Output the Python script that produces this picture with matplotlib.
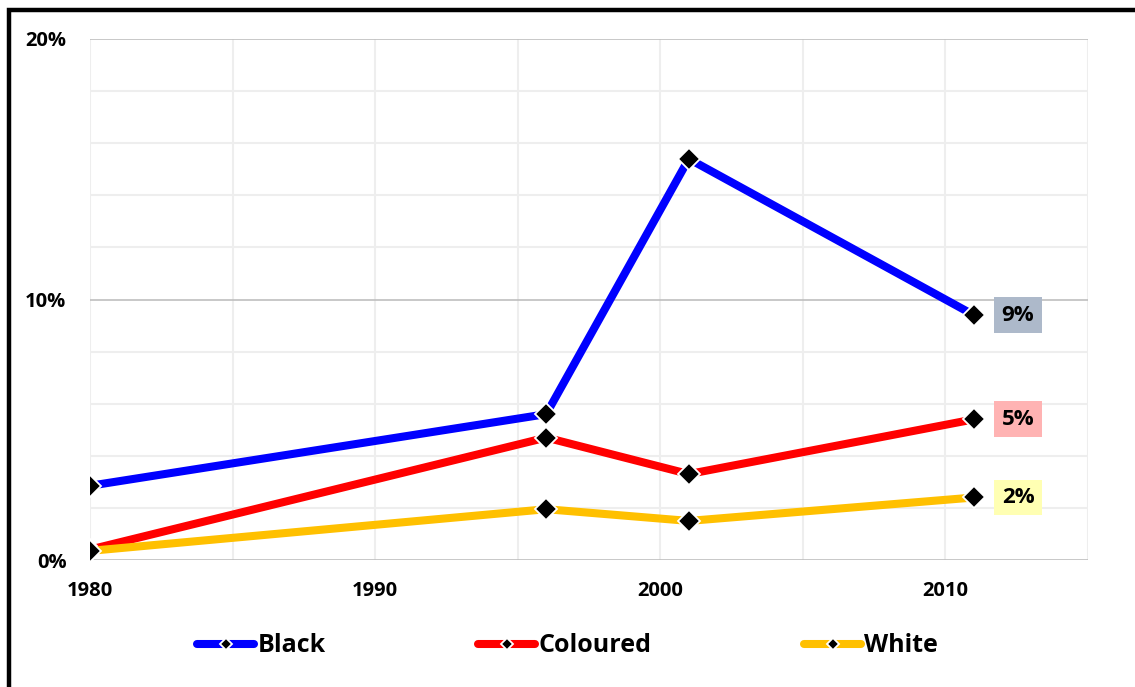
import matplotlib.pyplot as plt
from matplotlib.patches import Rectangle
from matplotlib.ticker import MultipleLocator, FuncFormatter

years = [1980, 1996, 2001, 2011]
black = [2.85, 5.6, 15.4, 9.4]
coloured = [0.4, 4.7, 3.3, 5.4]
white = [0.35, 1.95, 1.5, 2.4]

series_names = ['Black', 'Coloured', 'White']
series_values = [black, coloured, white]
series_colors = ['#0000ff', '#ff0000', '#ffc000']
end_labels = ['9%', '5%', '2%']
label_boxes = ['#adb9ca', '#ffb3b3', '#ffffb3']

plt.rcParams['font.family'] = ['Open Sans', 'DejaVu Sans']
plt.rcParams['font.weight'] = 'bold'

fig = plt.figure(figsize=(11.35, 6.87), dpi=100)
ax = fig.add_axes([90 / 1135, 1 - 560 / 687, 998 / 1135, 521 / 687])

handles = []
for name, vals, col in zip(series_names, series_values, series_colors):
    h, = ax.plot(years, vals, color=col, lw=5.8, marker='D', ms=11.5,
                 mfc='black', mec='white', mew=1.3, label=name,
                 solid_capstyle='butt', zorder=3)
    handles.append(h)

# end-of-line value labels
for vals, txt, bc in zip(series_values, end_labels, label_boxes):
    ax.annotate(txt, (years[-1], vals[-1]), xytext=(20, 0),
                textcoords='offset points', ha='left', va='center',
                fontsize=16, fontweight='bold',
                bbox=dict(boxstyle='square,pad=0.33', fc=bc, ec='none'))

ax.set_xlim(1980, 2015)
ax.set_ylim(0, 20)
ax.xaxis.set_major_locator(MultipleLocator(10))
ax.xaxis.set_minor_locator(MultipleLocator(5))
ax.yaxis.set_major_locator(MultipleLocator(10))
ax.yaxis.set_minor_locator(MultipleLocator(2))
ax.yaxis.set_major_formatter(FuncFormatter(lambda v, p: '%d%%' % v))

ax.grid(which='major', axis='y', color='#bfbfbf', lw=1.2)
ax.grid(which='minor', axis='y', color='#eeeeee', lw=1.5)
ax.grid(which='both', axis='x', color='#eeeeee', lw=1.5)
ax.set_axisbelow(True)
ax.tick_params(which='both', length=0)
ax.tick_params(axis='x', pad=15, labelsize=14.5)
ax.tick_params(axis='y', pad=17, labelsize=14.5)
for s in ax.spines.values():
    s.set_visible(False)

leg = fig.legend(handles=handles, loc='center', bbox_to_anchor=(0.5, 1 - 646 / 687),
                 ncol=3, frameon=False, fontsize=18, handlelength=2.3,
                 handletextpad=0.12, columnspacing=6.1, markerscale=0.55)
for lh in leg.get_lines():
    lh.set_solid_capstyle('round')

# outer frame (only left and top visible)
fig.patches.append(Rectangle((9 / 1135, -0.1), 1.2, 1.1 - 10 / 687,
                             transform=fig.transFigure, fill=False,
                             ec='black', lw=3.2, clip_on=False))

fig.savefig('out.png', dpi=100)
